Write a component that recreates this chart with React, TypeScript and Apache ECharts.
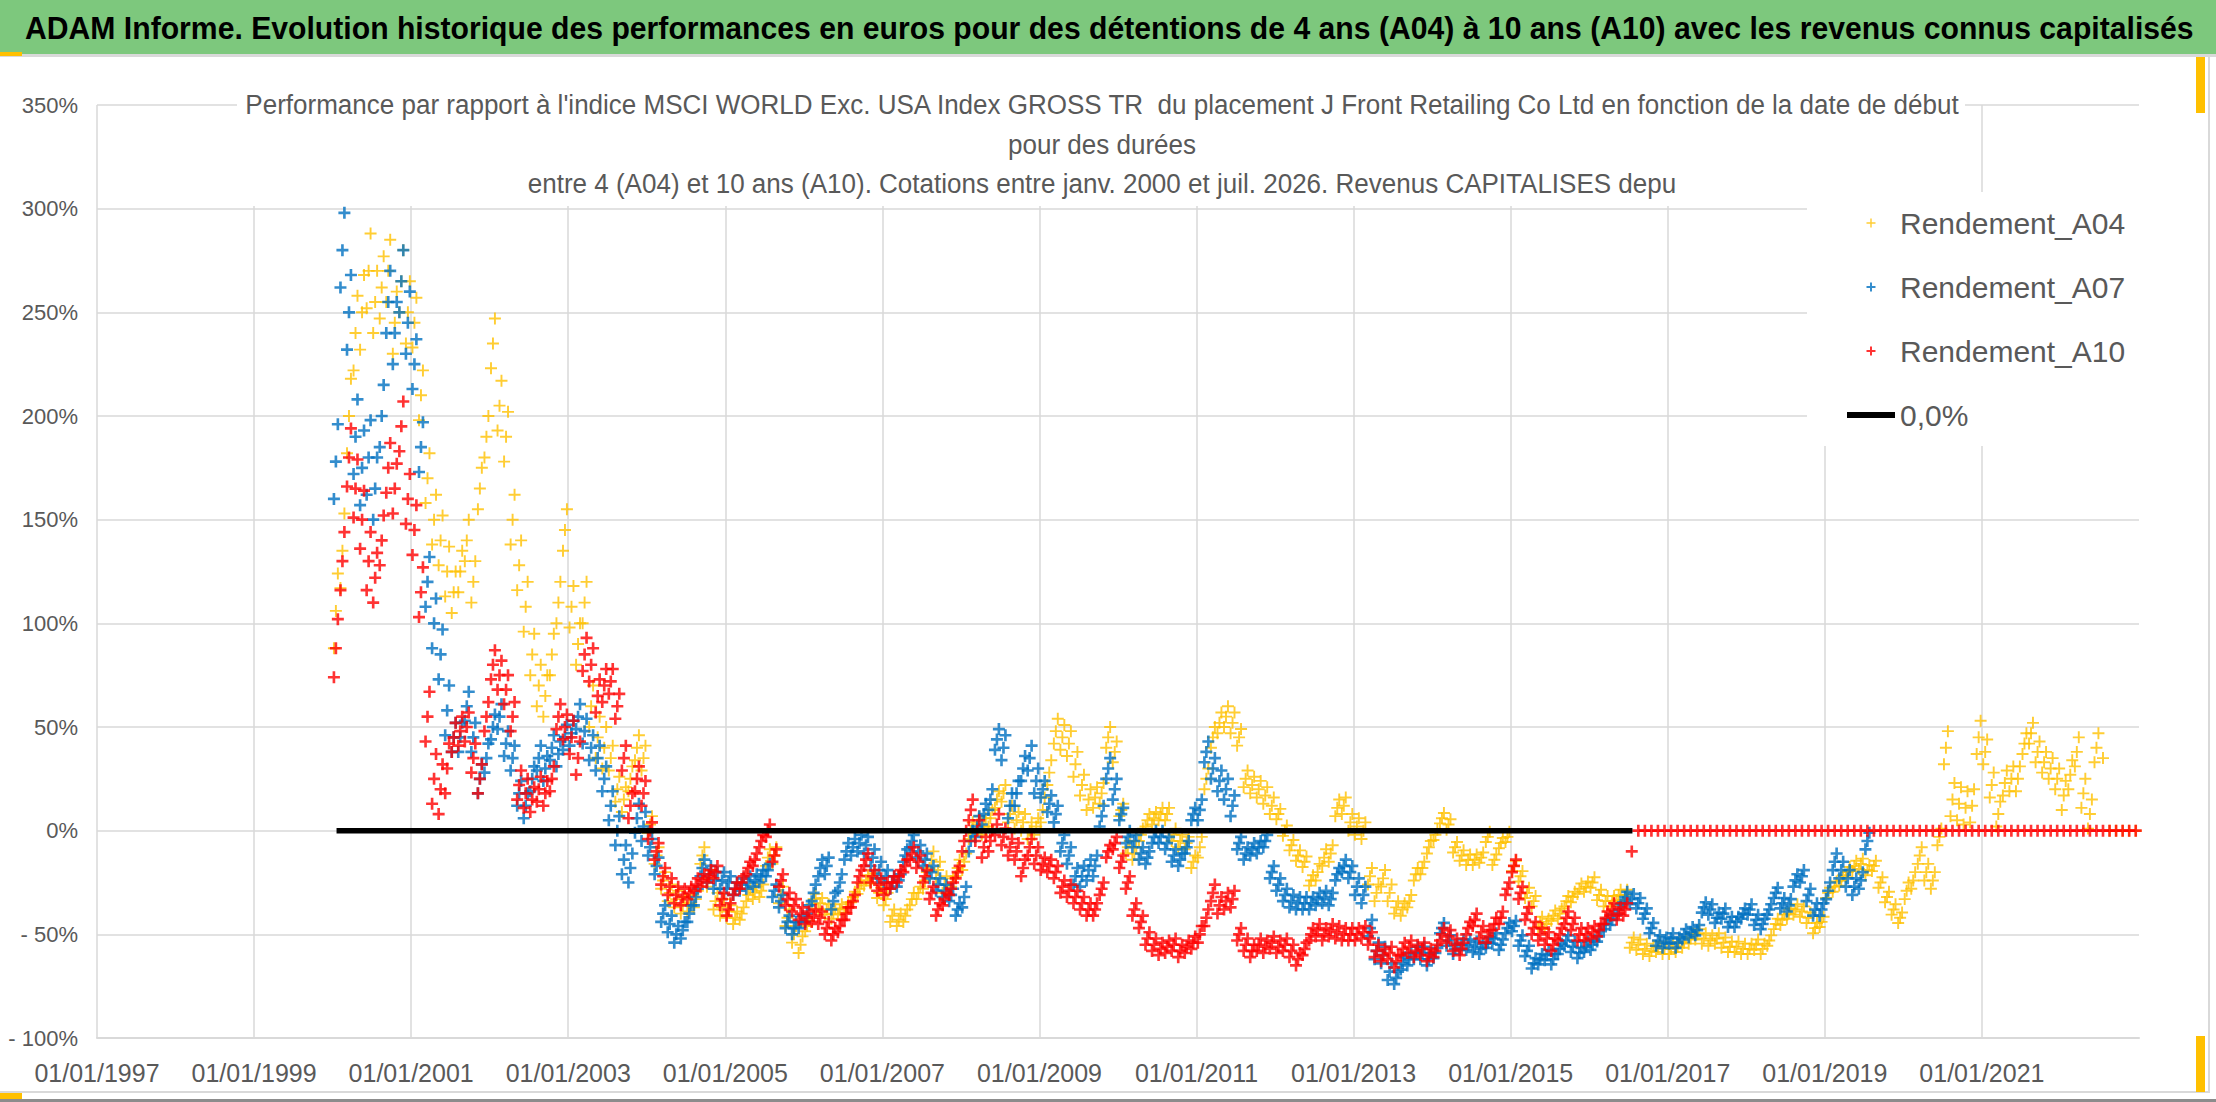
import { useEffect, useRef } from 'react'
import * as echarts from 'echarts'

// x axis counts years from 01/01/1997, series values are monthly from January 2000
const ORIGIN_YEAR = 1997
const FIRST_YEAR = 2000

// Rendement_A04 (%), one value per month, Jan 2000 -> Dec 2022
const a04 = [
  106, 135, 200, 240, 250, 270, 255, 262, 270, 245, 265, 250,
  245, 210, 170, 150, 140, 125, 115, 125, 140, 120, 165, 190,
  235, 205, 190, 150, 128, 108, 85, 70, 65, 85, 110, 145,
  108, 90, 110, 60, 45, 40, 35, 20, 15, 25, 40, 35,
  3, -12, -24, -30, -33, -36, -35, -33, -12, -23, -34, -37,
  -39, -42, -40, -31, -30, -29, -13, -12, -31, -42, -50, -55,
  -46, -33, -35, -38, -40, -38, -37, -32, -28, -24, -23, -30,
  -33, -41, -43, -41, -33, -30, -24, -14, -19, -26, -27, -18,
  -15, 0, 3, 2, 6, 15, 18, 8, 5, 4, 0, 2,
  10, 28, 48, 45, 42, 32, 22, 15, 16, 18, 45, 38,
  10, -8, -11, -2, 5, 6, 8, 8, -2, -5, -6, -15,
  -8, 25, 45, 52, 55, 52, 45, 25, 22, 20, 17, 12,
  8, 0, -7, -12, -15, -24, -20, -13, -11, 11, 12, 4,
  2, 0, -22, -30, -23, -30, -37, -38, -34, -21, -18, -8,
  -2, 6, 3, -8, -12, -14, -14, -13, -3, -14, -6, -3,
  -17, -22, -30, -34, -44, -45, -41, -40, -34, -32, -28, -27,
  -25, -31, -34, -34, -31, -31, -54, -55, -57, -58, -56, -57,
  -57, -56, -54, -52, -50, -52, -53, -52, -54, -56, -56, -57,
  -57, -55, -57, -53, -45, -43, -40, -38, -39, -42, -47, -44,
  -30, -27, -24, -20, -17, -16, -19, -17, -25, -32, -38, -42,
  -29, -24, -12, -20, -24, -3, 40, 15, 13, 11, 12, 45,
  38, 22, 8, 23, 25, 25, 42, 47, 38, 33, 30, 25,
  17, 27, 38, 18, 8, 40, 35, 0, 0, 0, 0, 0,
]

// half height of the daily scatter around each month, one value per half year
const a04Spread = [
  18, 15, 12, 10, 12, 10, 10, 6, 4, 4, 3, 4,
  2.5, 2.5, 3, 4, 4, 4, 6, 5, 3, 3, 5, 4,
  2.5, 4, 4, 3, 2.5, 2.5, 2.5, 2.5, 2.5, 2.5, 2.5, 2.5,
  2.5, 2.5, 2.5, 2.5, 4, 8, 6, 5, 7, 0,
]

// Rendement_A07 (%), Jan 2000 -> Jul 2019
const a07 = [
  178, 280, 250, 190, 175, 180, 165, 200, 255, 240, 265, 245,
  225, 185, 120, 100, 85, 58, 45, 45, 60, 45, 25, 35,
  50, 55, 42, 35, 18, 12, 25, 35, 30, 40, 37, 45,
  47, 55, 48, 40, 35, 25, 12, 0, -14, -18, 6, 2,
  -8, -17, -40, -45, -50, -48, -40, -32, -18, -21, -24, -24,
  -25, -28, -26, -25, -24, -22, -19, -29, -34, -44, -47, -44,
  -40, -30, -18, -17, -34, -25, -10, -8, -6, -7, -13, -19,
  -22, -25, -24, -12, -5, -10, -14, -20, -26, -29, -31, -38,
  -32, -5, 2, 8, 15, 44, 40, 12, 18, 30, 35, 24,
  20, 13, 8, -6, -12, -22, -22, -19, -17, 7, 30, 20,
  8, -3, -5, -11, -13, -3, -3, -6, -12, -14, -8, 8,
  10, 38, 30, 24, 20, 12, -6, -11, -9, -8, -5, -20,
  -26, -31, -34, -35, -35, -35, -33, -32, -33, -21, -17, -20,
  -27, -31, -47, -58, -60, -68, -71, -64, -62, -59, -59, -62,
  -59, -47, -53, -57, -55, -55, -56, -57, -54, -52, -55, -47,
  -46, -53, -58, -64, -62, -60, -62, -57, -53, -56, -59, -56,
  -55, -51, -45, -43, -38, -32, -33, -35, -40, -47, -53, -54,
  -52, -54, -50, -49, -48, -37, -38, -42, -40, -44, -44, -40,
  -38, -43, -45, -38, -30, -35, -36, -24, -22, -31, -38, -38,
  -29, -15, -19, -23, -27, -24, -5,
]

const a07Spread = [
  18, 15, 12, 7, 6, 6, 6, 7, 4, 4, 3, 3,
  4, 4, 3, 3, 5, 6, 4, 5, 3, 3, 5, 3,
  3, 3, 4, 3, 2.5, 2.5, 2.5, 2.5, 2.5, 2.5, 2.5, 2.5,
  2.5, 3, 4, 4,
]

// Rendement_A10 (%), Jan 2000 -> Dec 2022
const a10 = [
  88, 130, 180, 165, 150, 130, 122, 140, 175, 165, 195, 160,
  145, 115, 55, 25, 20, 30, 45, 48, 50, 35, 25, 55,
  80, 75, 68, 55, 22, 18, 15, 20, 18, 25, 55, 50,
  45, 35, 85, 80, 65, 70, 72, 60, 35, 12, 25, 18,
  0, -10, -22, -27, -31, -32, -30, -26, -24, -22, -20, -33,
  -38, -28, -25, -18, -14, -5, 0, -12, -24, -33, -36, -40,
  -42, -41, -42, -47, -50, -46, -40, -34, -22, -14, -22, -26,
  -28, -25, -22, -17, -11, -15, -22, -30, -38, -33, -28, -20,
  -5, 10, 0, -8, -5, 3, -3, -8, -10, -18, -8, -12,
  -16, -17, -20, -27, -29, -32, -35, -38, -38, -28, -10, -6,
  -15, -25, -38, -44, -52, -55, -57, -56, -55, -58, -56, -54,
  -50, -42, -30, -36, -34, -33, -50, -55, -58, -55, -56, -54,
  -56, -55, -58, -62, -57, -50, -48, -50, -48, -49, -50, -50,
  -50, -49, -52, -58, -60, -59, -63, -57, -56, -58, -57, -60,
  -58, -50, -51, -55, -57, -47, -43, -49, -51, -45, -42, -28,
  -17, -30, -40, -47, -50, -52, -55, -50, -42, -45, -50, -50,
  -49, -48, -42, -38, -40, -38, -10, 0, 0, 0, 0, 0,
  0, 0, 0, 0, 0, 0, 0, 0, 0, 0, 0, 0,
  0, 0, 0, 0, 0, 0, 0, 0, 0, 0, 0, 0,
  0, 0, 0, 0, 0, 0, 0, 0, 0, 0, 0, 0,
  0, 0, 0, 0, 0, 0, 0, 0, 0, 0, 0, 0,
  0, 0, 0, 0, 0, 0, 0, 0, 0, 0, 0, 0,
  0, 0, 0, 0, 0, 0, 0, 0, 0, 0, 0, 0,
]

const a10Spread = [
  14, 12, 12, 7, 7, 6, 8, 6, 4, 3, 3, 3,
  3, 3, 3, 3, 5, 4, 3, 3, 3, 3, 4, 3,
  3, 3, 3, 3, 3, 3, 3, 3, 3, 0, 0, 0,
  0, 0, 0, 0, 0, 0, 0, 0, 0, 0,
]

// the black 0,0% reference line, start and end dates (years)
const zeroLineYears = [2000.05, 2016.55]
const zeroLineValues = [0, 0]

const seriesNames = ['Rendement_A04', 'Rendement_A07', 'Rendement_A10', '0,0%']

const TITLE =
  'ADAM Informe. Evolution historique des performances en euros pour des détentions de 4 ans (A04) à 10 ans (A10) avec les revenus connus capitalisés'
const SUBTITLE = [
  "Performance par rapport à l'indice MSCI WORLD Exc. USA Index GROSS TR  du placement J Front Retailing Co Ltd en fonction de la date de début",
  'pour des durées',
  'entre 4 (A04) et 10 ans (A10). Cotations entre janv. 2000 et juil. 2026. Revenus CAPITALISES depu',
]

const FONT = "'Liberation Sans Narrow', 'Liberation Sans', sans-serif"
const WIDE_FONT = 'Liberation Sans'
const PLUS_THIN = 'path://M4.2 0h1.6v4.2H10v1.6H5.8V10H4.2V5.8H0V4.2h4.2z'
const PLUS_BOLD = 'path://M3.9 0h2.2v3.9H10v2.2H6.1V10H3.9V6.1H0V3.9h3.9z'
const LINE_ICON = 'path://M0 0h48v6H0z'

function measure(text: string, font: string) {
  const ctx = document.createElement('canvas').getContext('2d')
  if (!ctx) return 1
  ctx.font = font
  return ctx.measureText(text).width || 1
}

// each month: its value, and the low / high of the daily scatter around it
const toPoints = (values: number[], spreads: number[]) =>
  values.flatMap((v, i) => {
    const x = FIRST_YEAR - ORIGIN_YEAR + i / 12
    const s = spreads[Math.floor(i / 6)] || 0
    if (!s) return [[x + 0.5 / 12, v]]
    return [
      [x + 0.2 / 12, v - s],
      [x + 0.5 / 12, v],
      [x + 0.8 / 12, v + s],
    ]
  })

export default function App() {
  const chartRef = useRef<HTMLDivElement>(null)

  useEffect(() => {
    if (!chartRef.current) return
    const chart = echarts.init(chartRef.current, undefined, { renderer: 'svg' })

    // squeeze the Arial-like font to the width of the original (Calibri) texts
    const titleScale = 2170 / measure(TITLE, `bold 31px "${WIDE_FONT}"`)
    const subScale = 1716 / measure(SUBTITLE[0], `27px "${WIDE_FONT}"`)

    const option = {
      animation: false,
      backgroundColor: '#ffffff',
      grid: { left: 97, right: 77, top: 105, bottom: 64 },
      xAxis: {
        type: 'value',
        min: 0,
        max: 26,
        interval: 2,
        axisLine: { show: true, onZero: false, lineStyle: { color: '#D9D9D9', width: 2 } },
        axisTick: { show: false },
        splitLine: { show: true, showMaxLine: false, lineStyle: { color: '#D9D9D9', width: 1.5 } },
        axisLabel: {
          color: '#595959',
          fontSize: 25,
          fontFamily: FONT,
          margin: 22,
          showMaxLabel: false,
          formatter: (v: number) =>
            Math.abs(v - Math.round(v)) < 1e-6 && v < 26 ? `01/01/${ORIGIN_YEAR + Math.round(v)}` : '',
        },
      },
      yAxis: {
        type: 'value',
        min: -100,
        max: 350,
        interval: 50,
        axisLine: { show: false },
        axisTick: { show: false },
        splitLine: { show: true, lineStyle: { color: '#D9D9D9', width: 1.5 } },
        axisLabel: {
          color: '#595959',
          fontSize: 22,
          fontFamily: FONT,
          margin: 19,
          formatter: (v: number) => (v < 0 ? `- ${-v}%` : `${v}%`),
        },
      },
      legend: {
        orient: 'vertical',
        left: 1807,
        top: 192,
        backgroundColor: '#ffffff',
        padding: [16, 40, 16, 40],
        itemWidth: 48,
        itemHeight: 9,
        itemGap: 34,
        textStyle: { fontSize: 30, color: '#595959', fontFamily: FONT },
        data: [
          seriesNames[0],
          seriesNames[1],
          seriesNames[2],
          { name: seriesNames[3], icon: LINE_ICON, itemStyle: { color: '#000000' } },
        ],
      },
      graphic: [
        { type: 'rect', z: 10, shape: { x: 0, y: 0, width: 2216, height: 54 }, style: { fill: '#7DC87D' } },
        { type: 'rect', z: 10, shape: { x: 0, y: 54, width: 2216, height: 3 }, style: { fill: '#D9D9D9' } },
        {
          type: 'text',
          z: 11,
          x: 25,
          y: 28,
          scaleX: titleScale,
          style: {
            text: TITLE,
            fontFamily: WIDE_FONT,
            fontWeight: 'bold',
            fontSize: 31,
            fill: '#000000',
            verticalAlign: 'middle',
          },
        },
        { type: 'rect', z: 10, shape: { x: 237, y: 80, width: 1728, height: 126 }, style: { fill: '#ffffff' } },
        ...SUBTITLE.map((line, i) => ({
          type: 'text',
          z: 11,
          x: 1102,
          y: 105 + i * 39.5,
          scaleX: subScale,
          style: {
            text: line,
            fontFamily: WIDE_FONT,
            fontSize: 27,
            fill: '#595959',
            align: 'center',
            verticalAlign: 'middle',
          },
        })),
        // chart border and the excel selection handles
        { type: 'rect', z: 10, shape: { x: 2208, y: 57, width: 2, height: 1036 }, style: { fill: '#D9D9D9' } },
        { type: 'rect', z: 10, shape: { x: 0, y: 1091, width: 2210, height: 2 }, style: { fill: '#D9D9D9' } },
        { type: 'rect', z: 10, shape: { x: 0, y: 1099, width: 2216, height: 3 }, style: { fill: '#8C8C8C' } },
        { type: 'rect', z: 12, shape: { x: 0, y: 52, width: 22, height: 4 }, style: { fill: '#FFC000' } },
        { type: 'rect', z: 12, shape: { x: 0, y: 1093, width: 22, height: 6 }, style: { fill: '#FFC000' } },
        { type: 'rect', z: 12, shape: { x: 2196, y: 57, width: 9, height: 56 }, style: { fill: '#FFC000' } },
        { type: 'rect', z: 12, shape: { x: 2196, y: 1036, width: 9, height: 56 }, style: { fill: '#FFC000' } },
      ],
      series: [
        {
          name: seriesNames[0],
          type: 'scatter',
          data: toPoints(a04, a04Spread),
          symbol: PLUS_THIN,
          symbolSize: 12,
          symbolKeepAspect: true,
          itemStyle: { color: '#FFC000' },
          z: 2,
        },
        {
          name: seriesNames[1],
          type: 'scatter',
          data: toPoints(a07, a07Spread),
          symbol: PLUS_BOLD,
          symbolSize: 12,
          symbolKeepAspect: true,
          itemStyle: { color: '#0070C0' },
          z: 3,
        },
        {
          name: seriesNames[2],
          type: 'scatter',
          data: toPoints(a10, a10Spread),
          symbol: PLUS_BOLD,
          symbolSize: 12,
          symbolKeepAspect: true,
          itemStyle: { color: '#FF0000' },
          z: 4,
        },
        {
          name: seriesNames[3],
          type: 'line',
          data: zeroLineYears.map((y, i) => [y - ORIGIN_YEAR, zeroLineValues[i]]),
          symbol: 'none',
          lineStyle: { color: '#000000', width: 5.5 },
          itemStyle: { color: '#000000' },
          z: 5,
        },
      ],
    }

    chart.setOption(option)

    return () => {
      chart.dispose()
    }
  }, [])

  return (
    <div
      ref={chartRef}
      style={{ position: 'fixed', left: 0, top: 0, width: 2216, height: 1102, background: '#ffffff' }}
    />
  )
}
